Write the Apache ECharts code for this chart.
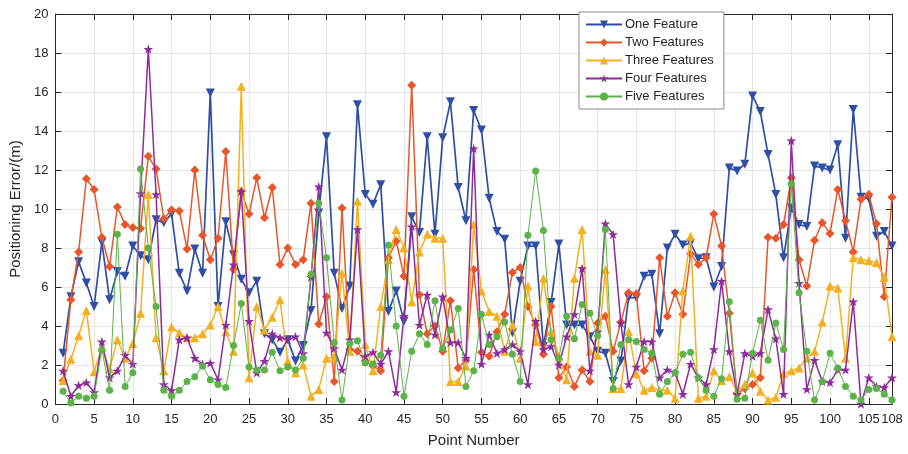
<!DOCTYPE html>
<html>
<head>
<meta charset="utf-8">
<script src="https://cdn.jsdelivr.net/npm/echarts@6/dist/echarts.min.js"></script>
<style>
  html, body { margin: 0; padding: 0; background: #ffffff; }
  #chart { width: 908px; height: 454px; }
</style>
</head>
<body>
<div id="chart"></div>
<script>
// Point numbers 1..108
const pointNumbers = [
  1,2,3,4,5,6,7,8,9,10,11,12,13,14,15,16,17,18,19,20,
  21,22,23,24,25,26,27,28,29,30,31,32,33,34,35,36,37,38,39,40,
  41,42,43,44,45,46,47,48,49,50,51,52,53,54,55,56,57,58,59,60,
  61,62,63,64,65,66,67,68,69,70,71,72,73,74,75,76,77,78,79,80,
  81,82,83,84,85,86,87,88,89,90,91,92,93,94,95,96,97,98,99,100,
  101,102,103,104,105,106,107,108
];

const seriesNames = ['One Feature', 'Two Features', 'Three Features', 'Four Features', 'Five Features'];

// Positioning error (m) per point
const oneFeature = [
  2.6,5.5,7.3,6.2,5.0,8.3,5.35,6.8,6.55,8.1,
  7.6,7.4,9.45,9.3,9.75,6.7,5.8,7.95,6.7,15.95,
  5.0,9.35,7.65,6.4,5.7,6.3,3.6,3.3,2.65,3.3,
  2.2,3.0,4.8,9.8,13.7,6.7,4.9,6.05,15.35,10.75,
  10.25,11.25,4.75,5.8,4.25,9.6,8.8,13.7,8.7,13.65,
  15.5,11.1,9.4,15.05,14.05,10.55,8.85,8.45,3.65,6.3,
  8.1,8.1,2.95,5.2,8.2,4.05,4.05,4.05,3.45,2.7,
  2.6,1.15,2.2,5.45,5.45,6.55,6.65,3.6,8.0,8.7,
  8.15,8.25,7.45,7.5,6.0,7.05,12.1,11.95,12.3,15.8,
  15.0,12.8,10.75,7.5,10.05,9.2,9.1,12.2,12.1,12.0,
  13.3,8.5,15.1,10.6,10.55,8.6,8.85,8.1
];
const twoFeatures = [
  1.2,5.35,7.8,11.55,11.0,8.55,7.05,10.1,9.2,9.05,
  9.0,12.7,12.05,9.5,9.95,9.9,7.95,12.0,8.65,7.4,
  8.5,12.95,6.9,10.9,9.75,11.6,9.55,11.1,7.15,8.0,
  7.15,7.4,10.3,4.1,5.5,1.15,10.05,2.8,2.7,2.2,
  1.95,1.7,7.5,8.35,6.55,16.35,5.6,3.6,4.0,2.7,
  5.3,1.85,2.25,6.9,2.65,2.45,3.7,4.6,6.75,7.0,
  5.0,4.05,2.55,5.0,1.35,1.9,0.9,1.75,1.15,4.15,
  4.5,2.7,4.2,5.7,5.65,1.7,2.35,7.5,4.5,5.7,
  4.6,7.7,7.15,7.5,9.75,8.1,4.65,0.55,0.8,1.0,
  1.35,8.55,8.5,9.2,11.6,7.4,6.05,8.4,9.3,8.75,
  11.0,9.4,7.8,10.5,10.75,9.25,5.5,10.6
];
const threeFeatures = [
  1.2,2.3,3.5,4.8,1.65,2.9,1.8,3.3,2.35,3.1,
  4.65,10.75,3.4,1.7,3.95,3.65,3.4,3.4,3.6,4.05,
  5.0,3.7,2.7,16.3,1.35,5.0,3.8,4.45,5.35,2.2,
  1.6,2.0,0.4,0.75,2.35,2.4,6.7,2.7,10.4,3.05,
  1.7,5.0,7.4,8.95,8.0,5.25,7.8,8.7,8.5,8.5,
  1.15,1.15,1.95,9.2,5.8,4.75,4.5,2.7,4.05,2.35,
  6.05,3.2,6.45,3.7,2.45,1.25,6.45,8.95,2.7,2.5,
  6.9,0.8,0.8,3.7,1.55,0.7,0.85,0.7,0.7,0.3,
  5.8,8.6,0.3,0.4,1.7,1.2,1.4,0.65,1.0,1.6,
  0.65,0.2,0.35,1.55,1.7,1.85,2.35,2.7,4.2,6.05,
  5.95,2.35,7.5,7.4,7.35,7.25,6.5,3.45
];
const fourFeatures = [
  1.7,0.4,0.95,1.1,0.6,3.2,1.35,1.7,2.5,2.05,
  10.8,18.2,10.75,1.0,0.7,3.3,3.4,2.35,2.05,2.1,
  1.25,4.05,7.15,10.9,4.25,1.6,2.2,3.6,3.4,3.3,
  3.45,2.6,6.5,11.15,3.65,2.85,1.75,3.3,8.95,2.45,
  2.65,2.05,2.7,0.6,4.5,9.1,4.05,5.6,3.55,5.5,
  3.15,3.15,2.35,13.1,2.05,3.55,2.6,2.8,3.05,2.7,
  1.0,4.25,2.8,2.95,2.0,3.45,4.6,6.95,1.7,3.7,
  9.25,8.7,4.15,1.0,1.9,3.2,3.2,1.35,1.75,1.6,
  0.5,2.05,1.35,1.0,2.8,6.3,2.7,0.5,2.6,2.45,
  2.6,4.85,3.35,0.5,13.5,6.2,0.75,2.25,1.15,1.1,
  1.75,1.75,5.25,0.0,1.35,0.9,0.85,1.35
];
const fiveFeatures = [
  0.65,0.05,0.4,0.3,0.4,2.8,0.7,8.7,0.9,1.6,
  12.05,8.0,5.0,0.7,0.4,0.7,1.15,1.4,1.95,1.25,
  1.0,0.85,3.0,5.15,1.9,1.75,1.75,2.65,1.7,1.9,
  1.75,2.35,6.65,10.3,7.5,3.15,0.2,3.1,3.25,2.1,
  2.05,2.5,8.15,4.0,0.4,2.7,3.6,3.05,5.3,2.85,
  3.8,4.9,0.9,1.7,4.6,3.05,3.45,4.2,2.55,1.15,
  8.65,11.95,8.9,3.3,2.35,4.5,3.35,5.1,4.65,3.5,
  8.95,0.8,3.05,3.3,3.2,2.8,2.6,0.5,1.15,1.6,
  2.55,2.65,1.35,0.7,0.4,1.3,5.25,0.25,0.3,2.6,
  4.3,2.25,4.15,2.8,11.3,5.7,2.7,0.2,1.15,2.6,
  1.85,0.9,0.4,0.2,0.75,0.8,0.5,0.2
];

const STAR = 'path://M50,0 L61.8,35.3 L98.9,35.3 L68.9,57.1 L80.4,92.7 L50,70.6 L19.6,92.7 L31.1,57.1 L1.1,35.3 L38.2,35.3 Z';

const styles = [
  { data: oneFeature,    color: '#2f4ea6', symbol: 'triangle', rotate: 180, size: 9,  width: 1.7 },
  { data: twoFeatures,   color: '#e8562a', symbol: 'diamond',  rotate: 0,   size: 9,  width: 1.5 },
  { data: threeFeatures, color: '#f5b020', symbol: 'triangle', rotate: 0,   size: 9,  width: 1.5 },
  { data: fourFeatures,  color: '#8e2c9c', symbol: STAR,       rotate: 0,   size: 10, width: 1.5 },
  { data: fiveFeatures,  color: '#5bb34a', symbol: 'circle',   rotate: 0,   size: 7,  width: 1.0 }
];

const axisColor = '#262626';
const font = '"Liberation Sans", Arial, sans-serif';

const chart = echarts.init(document.getElementById('chart'), null, { renderer: 'canvas' });

const series = styles.map((s, k) => ({
  name: seriesNames[k],
  type: 'line',
  data: pointNumbers.map((p, i) => [p, s.data[i]]),
  symbol: s.symbol,
  symbolSize: s.size,
  symbolRotate: s.rotate,
  symbolKeepAspect: true,
  showAllSymbol: true,
  xAxisIndex: 0,
  yAxisIndex: 0,
  lineStyle: { color: s.color, width: s.width },
  itemStyle: { color: s.color, borderWidth: 0 },
  emphasis: { disabled: true },
  animation: false,
  z: 2 + k
}));

const baseX = {
  type: 'value', min: 0, max: 108, interval: 5,
  axisLine: { show: true, onZero: false, lineStyle: { color: axisColor, width: 1 } },
  axisTick: { show: true, inside: true, length: 6, lineStyle: { color: axisColor } }
};
const baseY = {
  type: 'value', min: 0, max: 20, interval: 2,
  axisLine: { show: true, onZero: false, lineStyle: { color: axisColor, width: 1 } },
  axisTick: { show: true, inside: true, length: 6, lineStyle: { color: axisColor } }
};

chart.setOption({
  backgroundColor: '#ffffff',
  animation: false,
  textStyle: { fontFamily: font },
  grid: { left: 52, right: 16, top: 14, bottom: 50, containLabel: false },
  legend: {
    orient: 'vertical',
    left: 579,
    top: 12,
    data: seriesNames,
    itemWidth: 36,
    itemHeight: 10,
    itemGap: 5,
    padding: [6, 10, 6, 6],
    backgroundColor: '#ffffff',
    borderColor: '#8c8c8c',
    borderWidth: 1,
    textStyle: { fontFamily: font, fontSize: 13, color: '#262626', padding: [0, 0, 0, -2] }
  },
  xAxis: [
    Object.assign({}, baseX, {
      position: 'bottom',
      name: 'Point Number',
      nameLocation: 'middle',
      nameGap: 29,
      nameTextStyle: { fontFamily: font, fontSize: 15, color: axisColor },
      axisLabel: { color: axisColor, fontSize: 13, margin: 9, fontFamily: font },
      splitLine: { show: true, lineStyle: { color: '#e6e6e6', width: 1 } }
    }),
    Object.assign({}, baseX, {
      position: 'top',
      axisLabel: { show: false },
      splitLine: { show: false }
    })
  ],
  yAxis: [
    Object.assign({}, baseY, {
      position: 'left',
      name: 'Positioning Error/(m)',
      nameLocation: 'middle',
      nameGap: 23,
      nameRotate: 90,
      nameTextStyle: { fontFamily: font, fontSize: 15, color: axisColor },
      axisLabel: { color: axisColor, fontSize: 13, margin: 7, fontFamily: font },
      splitLine: { show: true, lineStyle: { color: '#e6e6e6', width: 1 } }
    }),
    Object.assign({}, baseY, {
      position: 'right',
      axisLabel: { show: false },
      splitLine: { show: false }
    })
  ],
  series: series
});
</script>
</body>
</html>
